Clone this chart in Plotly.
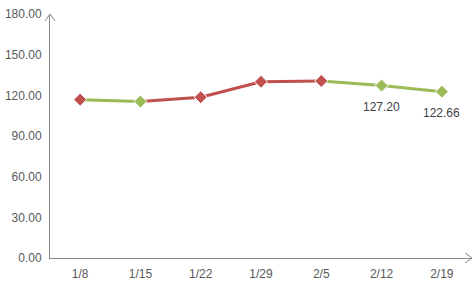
import plotly.graph_objects as go

categories = ["1/8", "1/15", "1/22", "1/29", "2/5", "2/12", "2/19"]
values = [116.8, 115.4, 118.6, 130.0, 130.6, 127.20, 122.66]
labels = ["", "", "", "", "", "127.20", "122.66"]

RED = "#C0504D"
GREEN = "#9BBB59"

fig = go.Figure()

# line segments colored by direction
for i in range(1, len(values)):
    col = RED if values[i] >= values[i - 1] else GREEN
    fig.add_trace(go.Scatter(
        x=[categories[i - 1], categories[i]], y=[values[i - 1], values[i]],
        mode="lines", line=dict(color=col, width=3), hoverinfo="skip", showlegend=False))

mcolors = [RED] + [RED if values[i] >= values[i - 1] else GREEN for i in range(1, len(values))]
fig.add_trace(go.Scatter(
    x=categories, y=values, mode="markers",
    marker=dict(symbol="diamond", size=10, color=mcolors, line=dict(color="white", width=1)),
    showlegend=False))

annotations = [
    dict(x=c, y=v, text=t, showarrow=False, yshift=-21, xref="x", yref="y",
         font=dict(family="Liberation Sans, Arial", size=12, color="#404040"))
    for c, v, t in zip(categories, values, labels) if t
]

axis_col = "#868686"
fig.update_layout(
    width=475, height=288,
    margin=dict(l=50, r=3, t=14, b=30),
    paper_bgcolor="white", plot_bgcolor="white",
    font=dict(family="Liberation Sans, Arial", size=12, color="#595959"),
    xaxis=dict(type="category", range=[-0.5, 6.5], showgrid=False, zeroline=False,
               showline=True, linecolor=axis_col, linewidth=1, ticks="",
               ticklabelstandoff=5,
               tickfont=dict(size=12, color="#595959")),
    yaxis=dict(range=[0, 180], tickvals=[0, 30, 60, 90, 120, 150, 180], tickformat=".2f",
               showgrid=False, zeroline=False, showline=True, linecolor=axis_col,
               linewidth=1, ticks="", ticklabelstandoff=5,
               tickfont=dict(size=12, color="#595959")),
    annotations=annotations,
    shapes=[
        dict(type="path", xref="paper", yref="paper", xsizemode="pixel", ysizemode="pixel",
             xanchor=1, yanchor=0, path="M -7 5 L 0 0 L -7 -5",
             line=dict(color=axis_col, width=1)),
        dict(type="path", xref="paper", yref="paper", xsizemode="pixel", ysizemode="pixel",
             xanchor=0, yanchor=1, path="M -5 -7 L 0 0 L 5 -7",
             line=dict(color=axis_col, width=1)),
    ],
)

fig.write_html("out.html")
